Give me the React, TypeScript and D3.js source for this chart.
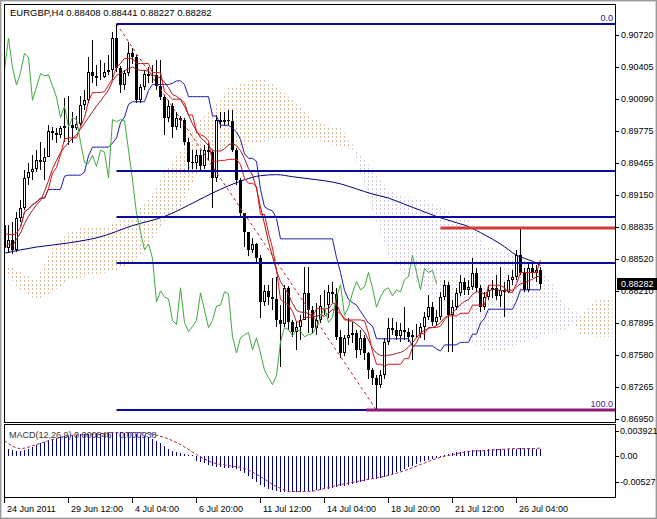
import React from "react";
import * as d3 from "d3";

const symbolLabel = "EURGBP,H4";
const headerValues = ["0.88408", "0.88441", "0.88227", "0.88282"];
const lastClose = 0.88282;

const firstOpen = 0.8886;
const closes = [
  0.8863, 0.8871, 0.8861, 0.8892, 0.8902, 0.8932, 0.8938, 0.8941, 0.8949, 0.8947,
  0.8952, 0.8978, 0.8976, 0.8974, 0.8981, 0.8983, 0.8984, 0.8981, 0.8985, 0.9003,
  0.9008, 0.9036, 0.9032, 0.903, 0.9031, 0.9036, 0.9038, 0.9069, 0.904, 0.9023,
  0.9035, 0.9054, 0.905, 0.9008, 0.9021, 0.9034, 0.9032, 0.9033, 0.9022, 0.9011,
  0.8991, 0.9002, 0.8982, 0.8991, 0.8989, 0.8967, 0.8947, 0.8946, 0.8954, 0.8943,
  0.8959, 0.8957, 0.8932, 0.8989, 0.8987, 0.8989, 0.8988, 0.8959, 0.893, 0.8897,
  0.8879, 0.8861, 0.8867, 0.8853, 0.881, 0.8821, 0.8815, 0.8813, 0.8792, 0.8788,
  0.8824, 0.879, 0.8781, 0.8786, 0.8792, 0.8819, 0.8802, 0.8785, 0.8792, 0.8806,
  0.8807, 0.882, 0.8818, 0.8776, 0.876, 0.8775, 0.8778, 0.878, 0.8763, 0.8775,
  0.876, 0.8743, 0.8736, 0.8729, 0.8738, 0.8771, 0.8785, 0.8783, 0.8777, 0.8783,
  0.8781, 0.8776, 0.8778, 0.8779, 0.8786, 0.8795, 0.8805, 0.879, 0.8795, 0.8815,
  0.8827, 0.8797, 0.8805, 0.8819, 0.883, 0.8822, 0.8825, 0.8839, 0.8824, 0.8805,
  0.8815, 0.8822, 0.8824, 0.8816, 0.8822, 0.882, 0.8832, 0.8835, 0.8856, 0.8839,
  0.8822, 0.8843, 0.8839, 0.8841, 0.88282,
];
const highs = [
  0.8895, 0.8886, 0.8889, 0.8898, 0.891, 0.894, 0.8946, 0.8954, 0.8959, 0.8967,
  0.8961, 0.8984, 0.8982, 0.8981, 0.8983, 0.901, 0.9012, 0.8996, 0.8993, 0.9012,
  0.9018, 0.905, 0.9067, 0.9043, 0.9047, 0.9045, 0.9052, 0.9075, 0.9083, 0.9042,
  0.9038, 0.9065, 0.9059, 0.9052, 0.9024, 0.9038, 0.9041, 0.9043, 0.9047, 0.9047,
  0.9013, 0.9008, 0.9005, 0.8996, 0.8993, 0.8991, 0.8971, 0.8959, 0.8959, 0.8959,
  0.8964, 0.8966, 0.8959, 0.8994, 0.8996, 0.8996, 0.8998, 0.8998, 0.8961, 0.8932,
  0.8897, 0.8879, 0.8873, 0.8868, 0.8856, 0.8827, 0.8827, 0.8834, 0.8835, 0.8807,
  0.8827, 0.8826, 0.8792, 0.879, 0.8797, 0.8844, 0.8844, 0.8806, 0.8809, 0.8817,
  0.8822, 0.8827, 0.883, 0.8824, 0.8783, 0.8778, 0.8794, 0.879, 0.8783, 0.8783,
  0.8778, 0.8761, 0.8745, 0.8738, 0.8743, 0.8775, 0.8794, 0.8794, 0.879, 0.8789,
  0.8805, 0.8785, 0.8783, 0.8788, 0.8789, 0.88, 0.8817, 0.881, 0.8802, 0.882,
  0.8832, 0.883, 0.8812, 0.8824, 0.8837, 0.8834, 0.8832, 0.8853, 0.8843, 0.8827,
  0.882, 0.8827, 0.8832, 0.8837, 0.8844, 0.883, 0.8837, 0.8841, 0.8861, 0.8883,
  0.8843, 0.8849, 0.8848, 0.8846, 0.88441,
];
const lows = [
  0.8859, 0.8858, 0.8857, 0.8859, 0.8889, 0.89, 0.8925, 0.893, 0.8938, 0.894,
  0.893, 0.8952, 0.8969, 0.8966, 0.8971, 0.8967, 0.8964, 0.8966, 0.8979, 0.8983,
  0.8998, 0.9005, 0.9025, 0.9022, 0.9028, 0.903, 0.9033, 0.9028, 0.9036, 0.9015,
  0.9018, 0.9032, 0.9044, 0.9005, 0.9005, 0.9018, 0.9025, 0.9025, 0.9018, 0.9008,
  0.8974, 0.8987, 0.8971, 0.8979, 0.8981, 0.8964, 0.894, 0.8941, 0.8941, 0.894,
  0.8941, 0.8949, 0.8902, 0.8928, 0.8981, 0.8983, 0.8984, 0.8957, 0.8925, 0.8892,
  0.8864, 0.8855, 0.8858, 0.8849, 0.8794, 0.8806, 0.8807, 0.8802, 0.8786, 0.8746,
  0.8786, 0.8783, 0.8776, 0.8763, 0.8773, 0.8792, 0.878, 0.878, 0.8778, 0.8789,
  0.8797, 0.8794, 0.8809, 0.8773, 0.8755, 0.8757, 0.8768, 0.877, 0.8755, 0.8758,
  0.8753, 0.8735, 0.8729, 0.8704, 0.8726, 0.8735, 0.8768, 0.8778, 0.8773, 0.8771,
  0.8773, 0.8771, 0.8753, 0.8775, 0.8775, 0.8773, 0.8792, 0.8787, 0.8787, 0.8792,
  0.8812, 0.8761, 0.8761, 0.8802, 0.8816, 0.8817, 0.8817, 0.8822, 0.882, 0.88,
  0.8802, 0.8812, 0.8814, 0.8812, 0.8805, 0.8795, 0.8819, 0.8827, 0.8832, 0.8837,
  0.882, 0.882, 0.8834, 0.883, 0.88227,
];

// Ichimoku cloud (Senkou spans), read at every 4th bar, projected 26 bars ahead
const cloudBars = d3.range(0, 153, 4);
const spanA = [
  0.8849, 0.8839, 0.8832, 0.8863, 0.8878, 0.8884, 0.8883, 0.8888, 0.8895, 0.891,
  0.8938, 0.8959, 0.8985, 0.9, 0.902, 0.9025, 0.903, 0.9022, 0.9008, 0.8993,
  0.8984, 0.8981, 0.8949, 0.89, 0.8856, 0.8837, 0.8827, 0.8812, 0.8787, 0.8773,
  0.8763, 0.8761, 0.8768, 0.8773, 0.878, 0.878, 0.8797, 0.8812, 0.8815,
];
const spanB = [
  0.8839, 0.8822, 0.8812, 0.882, 0.8832, 0.8835, 0.8838, 0.8841, 0.8849, 0.8866,
  0.8889, 0.8902, 0.8935, 0.8957, 0.8962, 0.8964, 0.8967, 0.8969, 0.8971, 0.8971,
  0.8967, 0.8962, 0.8959, 0.894, 0.892, 0.8913, 0.8912, 0.8905, 0.8897, 0.8892,
  0.8866, 0.8861, 0.8856, 0.8849, 0.8834, 0.8807, 0.8778, 0.8776, 0.8776,
];

// long moving average (navy), read at sample bars
const maBars = [0, 8, 16, 24, 32, 40, 48, 52, 56, 60, 64, 68, 72, 76, 80, 84, 88, 92, 96, 100, 104, 108, 112, 116, 120, 124, 128, 132, 134];
const maValues = [
  0.8858, 0.8864, 0.8868, 0.8874, 0.8885, 0.8894, 0.8909, 0.8917, 0.8924, 0.893,
  0.8934, 0.8935, 0.8933, 0.8931, 0.8929, 0.8926, 0.8921, 0.8916, 0.8912, 0.8906,
  0.89, 0.8894, 0.8889, 0.8884, 0.8876, 0.8867, 0.8856, 0.885, 0.8846,
];

// MACD(12,26,9)
const macdHist = [
  0.00137, 0.00087, 0.00075, 0.00062, 0.00062, 0.00075, 0.00087, 0.00112, 0.00137, 0.00161,
  0.00174, 0.00199, 0.00211, 0.00224, 0.00236, 0.00248, 0.00248, 0.00261, 0.00261, 0.00273,
  0.00273, 0.00273, 0.00286, 0.00286, 0.00273, 0.00273, 0.00286, 0.00298, 0.00298, 0.00298,
  0.00286, 0.00286, 0.00286, 0.00273, 0.00261, 0.00248, 0.00236, 0.00211, 0.00186, 0.00161,
  0.00124, 0.00087, 0.00062, 0.0005, 0.00037, 0.00025, 0.00012, 0.00003,
  -0.00062, -0.00075, -0.00087, -0.00112, -0.00124, -0.00137, -0.00137, -0.00149, -0.00149, -0.00149,
  -0.00161, -0.00186, -0.00211, -0.00248, -0.00286, -0.00323, -0.0036, -0.00385, -0.0041, -0.00422,
  -0.00435, -0.00447, -0.00447, -0.00447, -0.00447, -0.00447, -0.00447, -0.00435, -0.00435, -0.00435,
  -0.00422, -0.00422, -0.0041, -0.0041, -0.00397, -0.00385, -0.00373, -0.00373, -0.0036, -0.00348,
  -0.00335, -0.00323, -0.00311, -0.00298, -0.00286, -0.00286, -0.00273, -0.00261, -0.00248, -0.00224,
  -0.00199, -0.00186, -0.00161, -0.00137, -0.00124, -0.00099, -0.00075, -0.00062, -0.0005, -0.00037,
  -0.00025, -0.00012,
  0.00012, 0.00025, 0.00037, 0.0005, 0.0005, 0.00062, 0.00062, 0.00075, 0.00075, 0.00075,
  0.00075, 0.00087, 0.00087, 0.00087, 0.00087, 0.00087, 0.00087, 0.00087, 0.00087, 0.00099,
  0.00099, 0.00099, 0.00099, 0.00087, 0.000846,
];
const signalBars = [...d3.range(0, 133, 4), 134];
const signalValues = [
  0.00186, 0.00087, 0.00137, 0.00199, 0.00248, 0.00261, 0.00273, 0.00286, 0.00286, 0.00273,
  0.00224, 0.00137, 0.00012, -0.00087, -0.00124, -0.00161, -0.00261, -0.00385, -0.00447, -0.00447,
  -0.0041, -0.0036, -0.00323, -0.00286, -0.00248, -0.00186, -0.00112, -0.00037, 0.00012, 0.0005,
  0.00062, 0.00075, 0.00087, 0.00087, 0.000938,
];
const macdLabel = "MACD(12,26,9)";
const macdMainText = "0.000846";
const macdSignalText = "0.000938";

const priceTicks = [0.9072, 0.90405, 0.9009, 0.89775, 0.89465, 0.8915, 0.88835, 0.8852, 0.8821, 0.87895, 0.8758, 0.87265, 0.8695];
const macdTicks = [0.003921, 0, -0.00527];
const macdTickLabels = ["0.003921", "0.00", "-0.00527"];
const dateTickBars = [0, 16, 32, 48, 64, 80, 96, 112, 128];
const dateLabels = ["24 Jun 2011", "29 Jun 12:00", "4 Jul 04:00", "6 Jul 20:00", "11 Jul 12:00", "14 Jul 04:00", "18 Jul 20:00", "21 Jul 12:00", "26 Jul 04:00"];

// drawn objects
const fibHighBar = 28;
const fibLowBar = 93;
const fibLevels = [0, 0.382, 0.5, 0.618, 1];
const resistanceLevel = 0.8883;
const resistanceStartBar = 109;
const supportStartBar = 90.4;

const FONT = "'Liberation Sans', Arial, sans-serif";

export default function App() {
  const W = 657, H = 519;
  const L = 4.5, R = 615.5, T = 4.5, B1 = 422.5, T2 = 424.5, B2 = 497.5;
  const x = d3.scaleLinear().domain([0, 134]).range([4.5, 540.5]);
  const y = d3.scaleLinear().domain([0.8695, 0.9072]).range([419.3, 35]);
  const ym = d3.scaleLinear().domain([-0.00527, 0.003921]).range([498, 424]);

  const n = closes.length;
  const opens = closes.map((c, i) => (i === 0 ? firstOpen : closes[i - 1]));
  const midpoint = (i: number, p: number) => {
    const s = Math.max(0, i - p + 1);
    const hh = d3.max(highs.slice(s, i + 1)) as number;
    const ll = d3.min(lows.slice(s, i + 1)) as number;
    return (hh + ll) / 2;
  };
  const tenkan = d3.range(n).map((i) => midpoint(i, 9));
  const kijun = d3.range(n).map((i) => midpoint(i, 26));
  const sma10 = d3.range(n).map((i) => d3.mean(closes.slice(Math.max(0, i - 9), i + 1)) as number);
  const chikou = d3.range(n - 26).map((i) => closes[i + 26]);

  const line = d3.line<number>().x((_, i) => x(i)).y((v) => y(v));
  const kijunLine = d3.line<number>().x((_, i) => x(i + 4)).y((v) => y(v));
  const maLine = d3.line<number>().x((_, k) => x(maBars[k])).y((v) => y(v)).curve(d3.curveMonotoneX);
  const sigLine = d3.line<number>().x((_, k) => x(signalBars[k])).y((v) => ym(v)).curve(d3.curveMonotoneX);

  const cloud = cloudBars.map((b, k) => ({ b, a: spanA[k], s: spanB[k] }));
  const brownArea = d3.area<any>().x((d) => x(d.b)).y0((d) => y(d.s)).y1((d) => y(Math.max(d.a, d.s)));
  const thistleArea = d3.area<any>().x((d) => x(d.b)).y0((d) => y(d.a)).y1((d) => y(Math.max(d.a, d.s)));

  const fHigh = highs[fibHighBar];
  const fLow = lows[fibLowBar];
  const fibY = (lv: number) => Math.round(y(fHigh - lv * (fHigh - fLow)));
  const zeroY = ym(0);

  return (
    <div style={{ position: "absolute", left: 0, top: 0 }}>
      <svg width={W} height={H} style={{ display: "block", background: "#fff" }} fontFamily={FONT}>
        <defs>
          <clipPath id="mainClip"><rect x={5} y={5} width={610} height={417} /></clipPath>
          <clipPath id="macdClip"><rect x={5} y={425} width={610} height={72} /></clipPath>
          <pattern id="dotBrown" patternUnits="userSpaceOnUse" x={0} y={0} width={4} height={4}>
            <rect x={0} y={0} width={1} height={2} fill="#dcbb9c" />
          </pattern>
          <pattern id="dotThistle" patternUnits="userSpaceOnUse" x={0} y={0} width={4} height={4}>
            <rect x={0} y={0} width={1} height={2} fill="#d2c8e0" />
          </pattern>
        </defs>
        <rect x={0} y={0} width={W} height={H} fill="#fff" />
        <rect x={0.5} y={0.5} width={W - 1} height={H - 1} fill="none" stroke="#9a9a9a" />
        <rect x={1.5} y={1.5} width={W - 3} height={H - 3} fill="none" stroke="#d6d6d6" />

        {/* main panel */}
        <g clipPath="url(#mainClip)">
          <path d={brownArea(cloud) || ""} fill="url(#dotBrown)" />
          <path d={thistleArea(cloud) || ""} fill="url(#dotThistle)" />
          {closes.map((c, i) => {
            const o = opens[i];
            const cx = x(i);
            const yo = Math.round(y(o));
            const yc = Math.round(y(c));
            const top = Math.min(yo, yc);
            const bot = Math.max(yo, yc);
            const bull = c >= o;
            return (
              <g key={i}>
                <line x1={cx} x2={cx} y1={Math.round(y(highs[i]))} y2={Math.round(y(lows[i]))} stroke="#000" />
                {bull ? (
                  <rect x={cx - 1} y={top + 0.5} width={2} height={Math.max(0, bot - top - 1)} fill="#fff" stroke="#000" />
                ) : (
                  <rect x={cx - 1.5} y={top} width={3} height={Math.max(1, bot - top)} fill="#000" />
                )}
              </g>
            );
          })}
          <path d={maLine(maValues) || ""} fill="none" stroke="#000080" strokeWidth={1} />
          <path d={kijunLine(kijun.slice(4)) || ""} fill="none" stroke="#1c1ca8" strokeWidth={1} />
          <path d={line(sma10) || ""} fill="none" stroke="#9c1c1c" strokeWidth={1} />
          <path d={line(tenkan) || ""} fill="none" stroke="#e01010" strokeWidth={1} />
          <path d={line(chikou) || ""} fill="none" stroke="#3fa83f" strokeWidth={1} />

          {/* fibonacci */}
          <line x1={x(fibHighBar)} y1={y(fHigh)} x2={x(fibLowBar)} y2={y(fLow)} stroke="#c81e1e" strokeDasharray="3,3" />
          {fibLevels.map((lv) => (
            <line key={lv} x1={x(fibHighBar)} x2={R} y1={fibY(lv)} y2={fibY(lv)} stroke="#0c0c9c" strokeWidth={2} />
          ))}
          <line x1={x(supportStartBar)} x2={R} y1={fibY(1)} y2={fibY(1)} stroke="#8a1a78" strokeWidth={3} />
          <line x1={x(resistanceStartBar)} x2={R} y1={Math.round(y(resistanceLevel))} y2={Math.round(y(resistanceLevel))} stroke="#d23a3a" strokeWidth={3} />
          <text x={613} y={fibY(0) - 3} fontSize={9} fill="#2020a0" textAnchor="end">0.0</text>
          <text x={613} y={fibY(1) - 3} fontSize={9} fill="#3a1f9a" textAnchor="end">100.0</text>
        </g>
        <rect x={L} y={T} width={R - L} height={B1 - T} fill="none" stroke="#000" />
        <text x={10} y={16} fontSize={9.5} fill="#000">
          {symbolLabel + "  " + headerValues.join(" ")}
        </text>

        {/* price axis */}
        {priceTicks.map((p) => (
          <g key={p}>
            <line x1={616} x2={619} y1={Math.round(y(p)) + 0.5} y2={Math.round(y(p)) + 0.5} stroke="#000" />
            <text x={621} y={y(p)} fontSize={9} fill="#000" dominantBaseline="central">{p.toFixed(5)}</text>
          </g>
        ))}
        <rect x={617} y={Math.round(y(lastClose)) - 6} width={40} height={12} fill="#000" />
        <text x={621} y={y(lastClose)} fontSize={9} fill="#fff" dominantBaseline="central">{lastClose.toFixed(5)}</text>

        {/* MACD panel */}
        <g clipPath="url(#macdClip)">
          {macdHist.map((v, i) => (
            <line key={i} x1={x(i)} x2={x(i)} y1={Math.round(zeroY)} y2={Math.round(ym(v))} stroke="#000080" />
          ))}
          <path d={sigLine(signalValues) || ""} fill="none" stroke="#b22a2a" strokeDasharray="3,2" />
        </g>
        <rect x={L} y={T2} width={R - L} height={B2 - T2} fill="none" stroke="#000" />
        <text x={9} y={438} fontSize={9} fill="#333">{macdLabel + " " + macdMainText}</text>
        <text x={119} y={438} fontSize={9} fill="#24308c">{macdSignalText}</text>
        {macdTicks.map((v, k) => {
          const yy = k === 0 ? 431 : k === 1 ? ym(v) : 482;
          return (
            <g key={v}>
              <line x1={616} x2={619} y1={Math.round(yy) + 0.5} y2={Math.round(yy) + 0.5} stroke="#000" />
              <text x={620} y={yy} fontSize={9} fill="#000" dominantBaseline="central">{macdTickLabels[k]}</text>
            </g>
          );
        })}

        {/* date axis */}
        {dateTickBars.map((b, k) => (
          <g key={b}>
            <line x1={x(b)} x2={x(b)} y1={498} y2={503} stroke="#000" />
            <text x={x(b) + 2.5} y={509} fontSize={9} fill="#000" dominantBaseline="central">{dateLabels[k]}</text>
          </g>
        ))}
      </svg>
    </div>
  );
}
